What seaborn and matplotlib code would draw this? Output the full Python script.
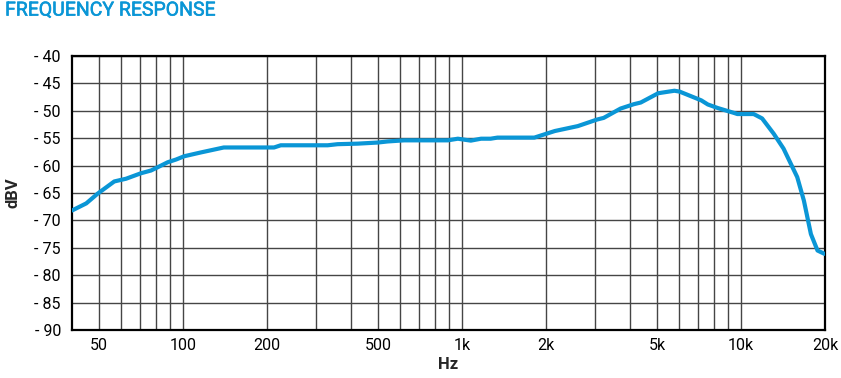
import pandas as pd
import matplotlib
matplotlib.use("Agg")
from matplotlib import pyplot
import matplotlib.ticker as ticker
import matplotlib.patheffects as pe
import seaborn as sns

# values
freq_hz = [40, 45, 49.5, 56.7, 62.5, 70.7, 76.8, 81.2, 88.1, 94.4, 101, 116,
           140, 212, 224, 330, 358, 423, 499, 541, 620, 889, 966, 1075, 1170,
           1266, 1340, 1816, 2150, 2600, 3050, 3220, 3700, 4130, 4370, 5050,
           5770, 6020, 7200, 7600, 8250, 9440, 9700, 11100, 11900, 13100,
           14200, 15900, 16800, 17800, 18800, 19900]
level_dbv = [-68.2, -66.9, -65.1, -62.9, -62.4, -61.4, -60.9, -60.3, -59.4,
             -58.9, -58.3, -57.6, -56.7, -56.7, -56.3, -56.3, -56.1, -56.0,
             -55.8, -55.6, -55.4, -55.4, -55.1, -55.45, -55.1, -55.1, -54.9,
             -54.9, -53.7, -52.8, -51.6, -51.3, -49.6, -48.8, -48.5, -46.8,
             -46.35, -46.5, -48.1, -48.85, -49.5, -50.4, -50.6, -50.6, -51.4,
             -54.2, -56.9, -62.1, -66.4, -72.5, -75.5, -76.1]

x_ticks = [50, 100, 200, 500, 1000, 2000, 5000, 10000, 20000]
x_labels = ["50", "100", "200", "500", "1k", "2k", "5k", "10k", "20k"]
x_grid = [50, 60, 70, 80, 90, 100, 200, 300, 400, 500, 600, 700, 800, 900,
          1000, 2000, 3000, 4000, 5000, 6000, 7000, 8000, 9000, 10000]
y_ticks = [-40, -45, -50, -55, -60, -65, -70, -75, -80, -85, -90]

BLUE = "#0a96d6"

df = pd.DataFrame({"Hz": freq_hz, "dBV": level_dbv})

sns.set_theme(style="white")
pyplot.rcParams["font.family"] = ["Roboto", "DejaVu Sans"]

fig = pyplot.figure(figsize=(8.41, 3.78), dpi=100)
ax = fig.add_axes([0.0856, 0.127, 0.8954, 0.725])

for v in x_grid:
	ax.axvline(v, color="#454545", linewidth=1.0, zorder=0)
for v in y_ticks:
	ax.axhline(v, color="#454545", linewidth=1.0, zorder=0)

sns.lineplot(data=df, x="Hz", y="dBV", ax=ax, color=BLUE, linewidth=3,
			 zorder=3)

ax.set_xscale("log")
ax.set_xlim(40, 20000)
ax.set_ylim(-90, -40)
ax.xaxis.set_major_locator(ticker.FixedLocator(x_ticks))
ax.xaxis.set_major_formatter(ticker.FixedFormatter(x_labels))
ax.xaxis.set_minor_locator(ticker.NullLocator())
ax.set_yticks(y_ticks)
ax.set_yticklabels(["- %d" % abs(v) for v in y_ticks])
ax.tick_params(axis="both", length=0, labelsize=11.5, colors="black")
ax.tick_params(axis="x", pad=6)
ax.tick_params(axis="y", pad=8)

for s in ax.spines.values():
	s.set_visible(True)
	s.set_color("black")
	s.set_linewidth(1.6)

ax.set_xlabel("Hz", fontsize=12, fontweight="bold", labelpad=3)
ax.set_ylabel("dBV", fontsize=12, fontweight="bold", labelpad=10)

# medium-weight look for the heading
fig.text(0.006, 0.972, "FREQUENCY RESPONSE", color=BLUE, fontsize=14,
		 fontweight="normal", va="center", ha="left",
		 path_effects=[pe.withStroke(linewidth=0.4, foreground=BLUE)])

fig.savefig("out.png", dpi=100)
